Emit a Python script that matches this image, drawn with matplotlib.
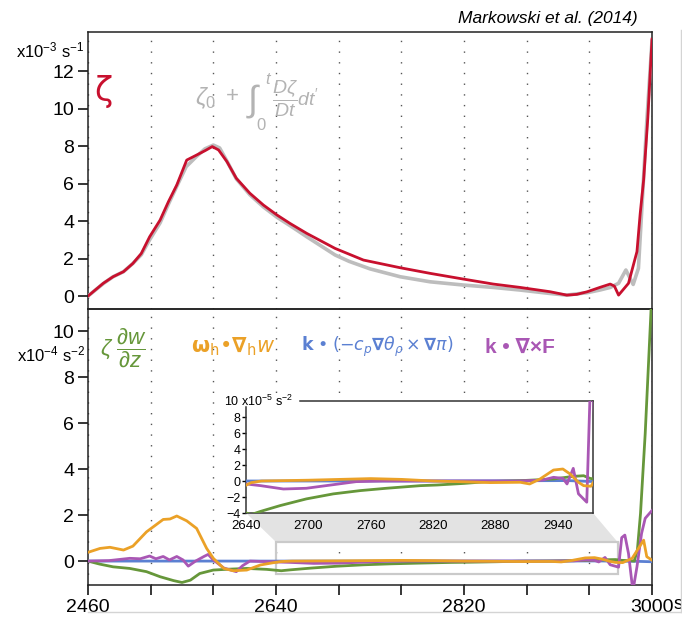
import matplotlib
matplotlib.use('Agg')
import matplotlib.pyplot as plt
from matplotlib.patches import Polygon, Rectangle
from matplotlib.lines import Line2D
import numpy as np

plt.rcParams['font.family'] = ['Liberation Sans', 'DejaVu Sans']
plt.rcParams['mathtext.fontset'] = 'custom'
plt.rcParams['mathtext.rm'] = 'Liberation Sans'
plt.rcParams['mathtext.it'] = 'Liberation Sans:italic'
plt.rcParams['mathtext.bf'] = 'Liberation Sans:bold'

# --- upper panel: vertical vorticity (x10^-3 s^-1)
t_zeta = [2460, 2474.6, 2484, 2494, 2503, 2511, 2519, 2529, 2537, 2545, 2554.5, 2564,
          2572, 2579, 2585, 2593, 2602, 2615, 2628, 2641, 2653.5, 2669.5, 2696.6,
          2723.7, 2758.9, 2787.6, 2818.9, 2848, 2873.8, 2880, 2902.5, 2918.5, 2928,
          2938, 2950, 2960, 2964, 2968, 2977.5, 2985.6, 2988.7, 2992, 2996, 3000]
zeta = [0, 0.68, 1.03, 1.3, 1.74, 2.27, 3.16, 4.05, 5.03, 5.92, 7.25, 7.52,
        7.75, 7.97, 7.79, 7.17, 6.28, 5.48, 4.85, 4.32, 3.87, 3.34, 2.54,
        1.92, 1.51, 1.21, 0.91, 0.64, 0.46, 0.41, 0.23, 0.05, 0.09,
        0.23, 0.46, 0.64, 0.53, 0.05, 0.68, 2.37, 4.4, 6.2, 9.5, 13.7]

t_zeta_int = [2460, 2475, 2484, 2494, 2503, 2511, 2519, 2529, 2537, 2545, 2554, 2564,
              2572, 2580, 2586, 2593, 2602, 2615, 2628, 2641, 2655, 2669.5, 2696.6,
              2710, 2730, 2758.9, 2787.6, 2818.9, 2848, 2873.8, 2902, 2918, 2938,
              2950, 2960, 2968, 2975, 2982, 2987, 2990, 2995, 3000]
zeta_int = [0, 0.68, 1.03, 1.3, 1.74, 2.2, 3.0, 3.9, 4.9, 5.85, 6.9, 7.45,
            7.85, 8.05, 7.9, 7.2, 6.25, 5.4, 4.75, 4.2, 3.7, 3.16, 2.19,
            1.85, 1.45, 1.03, 0.76, 0.59, 0.46, 0.32, 0.14, 0.05, 0.18,
            0.32, 0.46, 0.68, 1.39, 0.62, 1.48, 4.4, 9.3, 13.6]

# --- lower panel: vorticity tendency terms (x10^-4 s^-2)
t_stretch = [2460, 2471, 2484, 2500, 2516, 2529, 2542, 2550, 2558, 2567, 2580, 2596,
             2612, 2631, 2645, 2654, 2673, 2698, 2724, 2750, 2775, 2808, 2824, 2850,
             2872, 2904, 2936, 2955, 2965, 2971, 2977, 2983, 2986, 2989, 2993.5, 3000]
stretch = [0, -0.13, -0.25, -0.32, -0.46, -0.68, -0.85, -0.93, -0.83, -0.54, -0.39, -0.35,
           -0.32, -0.36, -0.42, -0.38, -0.307, -0.224, -0.161, -0.12, -0.091, -0.058, -0.05, -0.03,
           -0.008, 0.004, 0.025, 0.058, 0.066, 0.033, 0.02, 0.0, 0.48, 2.07, 5.55, 11.8]

t_tilt = [2460, 2471.5, 2481, 2494, 2503, 2516, 2532, 2538.5, 2545, 2554.5, 2564, 2573.6,
          2580, 2590, 2599, 2612, 2625, 2637.5, 2645, 2655, 2700, 2730, 2760, 2790, 2820,
          2850, 2875, 2904, 2913, 2923, 2936, 2945, 2952, 2960, 2965, 2972, 2981, 2987,
          2992, 2995, 3000]
tilt = [0.38, 0.55, 0.6, 0.48, 0.65, 1.27, 1.81, 1.83, 1.96, 1.75, 1.42, 0.55,
        0.12, -0.32, -0.42, -0.39, -0.17, -0.07, -0.02, 0.0, 0.01, 0.02, 0.03, 0.02, 0.0,
        -0.01, -0.02, -0.016, -0.037, 0.025, 0.137, 0.15, 0.087, -0.016, -0.058, -0.066, 0.12, 0.55,
        0.91, 0.19, 0.04]

t_baro = [2460, 2640, 2800, 2900, 2950, 2970, 2985, 3000]
baro = [0, 0.0, 0.0, 0.003, 0.005, -0.005, -0.01, -0.03]

t_fric = [2460, 2480, 2500, 2510, 2519, 2525, 2532, 2538, 2545, 2551, 2556, 2563, 2571,
          2575, 2580, 2590, 2602, 2608, 2615, 2640, 2654, 2676, 2698, 2724, 2746, 2772,
          2800, 2850, 2900, 2925, 2936, 2945, 2949, 2955, 2960, 2968, 2971, 2974, 2977.5,
          2981.7, 2985.6, 2990, 2993.5, 3000]
fric = [0, 0.02, 0.12, 0.1, 0.22, 0.1, 0.2, 0.05, 0.2, 0.05, -0.22, 0.0, 0.2,
        0.29, 0.05, -0.3, -0.46, -0.2, 0.0, -0.037, -0.058, -0.1, -0.091, -0.046, -0.008, 0.0,
        0.0, 0.0, 0.0, 0.01, 0.046, 0.033, -0.037, 0.158, -0.16, -0.265, 1.02, 1.13, 0.33,
        -1.3, -0.25, 1.2, 1.86, 2.2]

RED = '#c8102e'
GRAY = '#bdbdbd'
GREEN = '#66973a'
ORANGE = '#eba127'
BLUE = '#5b80d2'
PURPLE = '#a957b4'

W, H = 682, 617
fig = plt.figure(figsize=(W / 100, H / 100), dpi=100)
ax1 = fig.add_axes([88 / W, 1 - 309 / H, 564 / W, 277 / H])
ax2 = fig.add_axes([88 / W, 1 - 585 / H, 564 / W, 276 / H])
ax2.patch.set_alpha(0)


def fx(px):
    return px / W


def fy(py):
    return 1 - py / H


grid_kw = dict(color='#555555', lw=1.0, ls=(0, (1, 6.7)))
for ax in (ax1, ax2):
    ax.set_xlim(2460, 3000)
    ax.set_xticks(np.arange(2460, 3001, 60))
    ax.xaxis.grid(True, **grid_kw)
    ax.tick_params(axis='y', direction='out', length=7, width=1.1, pad=3, labelsize=14)
    for s in ax.spines.values():
        s.set_linewidth(1.1)
        s.set_color('#222222')

# upper panel
ax1.plot(t_zeta_int, zeta_int, color=GRAY, lw=2.6, zorder=3)
ax1.plot(t_zeta, zeta, color=RED, lw=2.0, zorder=4)
ax1.set_ylim(-0.69, 14.08)
ax1.set_yticks(np.arange(0, 13, 2))
ax1.tick_params(axis='x', length=0, labelbottom=False)

# lower panel
ax2.plot(t_baro, baro, color=BLUE, lw=2.0, zorder=3)
ax2.plot(t_stretch, stretch, color=GREEN, lw=2.0, zorder=4)
ax2.plot(t_fric, fric, color=PURPLE, lw=2.0, zorder=5)
ax2.plot(t_tilt, tilt, color=ORANGE, lw=2.0, zorder=6)
ax2.set_ylim(-1.04, 10.96)
ax2.set_yticks(np.arange(0, 11, 2))
xt = np.arange(2460, 3001, 60)
ax2.set_xticklabels([str(v) if (v - 2460) % 180 == 0 else '' for v in xt])
ax2.tick_params(axis='x', direction='out', length=7, width=1.1, pad=3, labelsize=14)
ax2.annotate('s', xy=(1, 0), xycoords='axes fraction', xytext=(22, -11),
             textcoords='offset pixels', ha='left', va='top', fontsize=13.5)

# inset
axin = fig.add_axes([246 / W, 1 - 513 / H, 347 / W, 112 / H])
axin.plot(t_baro, np.array(baro) * 10, color=BLUE, lw=2.0, zorder=3)
axin.plot(t_stretch, np.array(stretch) * 10, color=GREEN, lw=2.0, zorder=4)
axin.plot(t_fric, np.array(fric) * 10, color=PURPLE, lw=2.0, zorder=5)
axin.plot(t_tilt, np.array(tilt) * 10, color=ORANGE, lw=2.0, zorder=6)
axin.set_xlim(2640, 2974)
axin.set_ylim(-4, 10)
axin.set_yticks(np.arange(-4, 9, 2))
axin.set_xticks(np.arange(2640, 2941, 60))
axin.tick_params(axis='y', direction='out', length=3, width=1, pad=1, labelsize=9)
axin.tick_params(axis='x', direction='out', length=0, pad=5, labelsize=9.5)
for s in axin.spines.values():
    s.set_linewidth(1.1)
    s.set_color('#333333')
axin.spines['top'].set_bounds(2692, 2974)
axin.spines['left'].set_bounds(-4, 9.3)
fig.text(fx(224), fy(401), r'10 x10$^{-5}$ s$^{-2}$', fontsize=9,
         ha='left', va='center')

# zoom box + connector
x0, x1, y0, y1 = 2640, 2967, -0.56, 0.83
ax2.add_patch(Rectangle((x0, y0), x1 - x0, y1 - y0, fc='none', ec='#cacaca', lw=1.6, zorder=2))
fig.canvas.draw()
inv = ax2.transData.inverted()
bl = inv.transform(axin.transAxes.transform((0, 0)))
br = inv.transform(axin.transAxes.transform((1, 0)))
ax2.add_patch(Polygon([bl, br, (x1, y1), (x0, y1)], closed=True, fc='#e3e3e3',
                      ec='none', zorder=1.8, clip_on=False))

# labels
fig.text(1 - fx(44), fy(18), 'Markowski et al. (2014)', fontsize=12.5,
         style='italic', ha='right', va='center')
fig.text(fx(84), fy(50), r'x10$^{-3}$ s$^{-1}$', fontsize=12, ha='right', va='center')
fig.text(fx(86), fy(354), r'x10$^{-4}$ s$^{-2}$', fontsize=12, ha='right', va='center')

# upper legend
fig.text(fx(103), fy(92), 'ζ', fontsize=24, color=RED, ha='center', va='center',
         family='DejaVu Sans')
GTXT = '#b3b3b3'
fig.text(fx(195), fy(98), r'$\zeta_{0}$', fontsize=17, color=GTXT, ha='left', va='center')
fig.text(fx(226), fy(96), '+', fontsize=16, color=GTXT, ha='left', va='center')
fig.text(fx(246), fy(101), r'$\int$', fontsize=26, color=GTXT, ha='left', va='center')
fig.text(fx(265), fy(79), r'$t$', fontsize=12, color=GTXT, ha='left', va='center')
fig.text(fx(256), fy(125), '0', fontsize=12, color=GTXT, ha='left', va='center')
fig.text(fx(272), fy(99), r"$\dfrac{D\zeta}{Dt}dt^{\prime}$", fontsize=14, color=GTXT,
         ha='left', va='center')

# lower legend
fig.text(fx(100), fy(348), r'$\zeta\ \dfrac{\partial w}{\partial z}$', fontsize=16,
         color=GREEN, ha='left', va='center')
fig.text(fx(191), fy(347), r'$\mathbf{\omega}_\mathrm{h}$•$\mathbf{\nabla}_\mathrm{h}w$',
         fontsize=15, color=ORANGE, ha='left', va='center', weight='bold',
         math_fontfamily='dejavusans')
fig.text(fx(301), fy(347), r'$\mathbf{k}$ • $(-c_p\mathbf{\nabla}\theta_\rho\times\mathbf{\nabla}\pi)$',
         fontsize=12.5, color=BLUE, ha='left', va='center', weight='bold',
         math_fontfamily='dejavusans')
fig.text(fx(485), fy(347), 'k • ∇×F',
         fontsize=15, color=PURPLE, ha='left', va='center', weight='bold')

# page edges seen in the scan
fig.add_artist(Line2D([fx(88), 1], [fy(612), fy(612)], color='#d4d4d4', lw=1))
fig.add_artist(Line2D([fx(681), fx(681)], [fy(30), fy(612)], color='#d4d4d4', lw=1))

fig.savefig('out.png', dpi=100)
